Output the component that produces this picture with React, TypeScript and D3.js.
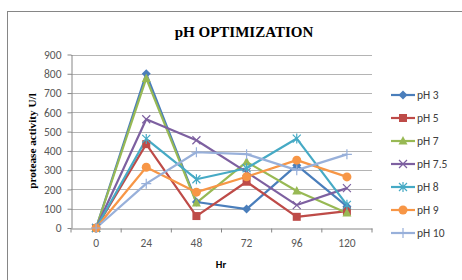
import React, { useEffect, useRef } from 'react';
import * as d3 from 'd3';

const hours = ['0', '24', '48', '72', '96', '120'];
const yTicks = [0, 100, 200, 300, 400, 500, 600, 700, 800, 900];

const seriesNames = ['pH 3', 'pH 5', 'pH 7', 'pH 7.5', 'pH 8', 'pH 9', 'pH 10'];
const ph3 = [0, 800, 135, 98, 326, 112];
const ph5 = [0, 435, 62, 240, 58, 88];
const ph7 = [0, 776, 130, 343, 192, 78];
const ph75 = [0, 564, 455, 290, 119, 207];
const ph8 = [0, 462, 253, 310, 464, 120];
const ph9 = [0, 315, 186, 266, 352, 265];
const ph10 = [0, 230, 393, 383, 300, 382];

const seriesValues = [ph3, ph5, ph7, ph75, ph8, ph9, ph10];
const colors = ['#4A7EBB', '#BE4B48', '#98B954', '#7D60A0', '#46AAC5', '#F79646', '#98B0DA'];
const markers = ['diamond', 'square', 'triangle', 'x', 'star', 'circle', 'plus'];

const W = 462;
const H = 280;
const PLOT = { left: 71, right: 372, top: 54.5, bottom: 228 };
const TICK_FONT = 'Carlito, "Liberation Sans", Arial, sans-serif';
const SERIF = '"Liberation Serif", "Times New Roman", serif';

type G = d3.Selection<SVGGElement, unknown, null, undefined>;

function drawMarker(g: G, kind: string, cx: number, cy: number, color: string) {
  if (kind === 'diamond') {
    g.append('path').attr('d', `M${cx},${cy - 4.5}L${cx + 4.5},${cy}L${cx},${cy + 4.5}L${cx - 4.5},${cy}Z`).attr('fill', color);
  } else if (kind === 'square') {
    g.append('rect').attr('x', cx - 4).attr('y', cy - 4).attr('width', 8).attr('height', 8).attr('fill', color);
  } else if (kind === 'triangle') {
    g.append('path').attr('d', `M${cx},${cy - 5}L${cx + 4.5},${cy + 3.5}L${cx - 4.5},${cy + 3.5}Z`).attr('fill', color);
  } else if (kind === 'circle') {
    g.append('circle').attr('cx', cx).attr('cy', cy).attr('r', 4.5).attr('fill', color);
  } else if (kind === 'x') {
    g.append('path').attr('d', `M${cx - 4},${cy - 4}L${cx + 4},${cy + 4}M${cx - 4},${cy + 4}L${cx + 4},${cy - 4}`)
      .attr('stroke', color).attr('stroke-width', 1.2);
  } else if (kind === 'star') {
    g.append('path')
      .attr('d', `M${cx - 4},${cy - 4}L${cx + 4},${cy + 4}M${cx - 4},${cy + 4}L${cx + 4},${cy - 4}M${cx},${cy - 5}L${cx},${cy + 5}`)
      .attr('stroke', color).attr('stroke-width', 1.2);
  } else if (kind === 'plus') {
    g.append('path').attr('d', `M${cx - 5},${cy}L${cx + 5},${cy}M${cx},${cy - 5}L${cx},${cy + 5}`)
      .attr('stroke', color).attr('stroke-width', 1.2);
  }
}

const App: React.FC = () => {
  const ref = useRef<SVGSVGElement>(null);

  useEffect(() => {
    if (!ref.current) return;
    const svg = d3.select(ref.current);
    svg.selectAll('*').remove();

    svg.append('rect').attr('width', W).attr('height', H).attr('fill', '#fff');
    // chart area frame
    svg.append('rect').attr('x', 7.5).attr('y', 11.5).attr('width', 470).attr('height', 290)
      .attr('fill', '#fff').attr('stroke', '#868686').attr('stroke-width', 1);

    const x = d3.scaleBand().domain(hours).range([PLOT.left, PLOT.right]);
    const y = d3.scaleLinear().domain([0, 900]).range([PLOT.bottom, PLOT.top]);
    const cx = (h: string) => (x(h) || 0) + x.bandwidth() / 2;

    const root = svg.append('g') as unknown as G;

    // gridlines
    root.selectAll('.grid').data(yTicks.filter(t => t > 0)).enter().append('line')
      .attr('x1', PLOT.left).attr('x2', PLOT.right)
      .attr('y1', d => Math.round(y(d)) + 0.5).attr('y2', d => Math.round(y(d)) + 0.5)
      .attr('stroke', '#b4b4b4').attr('stroke-width', 1);

    // y axis
    const yAxis = root.append('g').attr('transform', `translate(${PLOT.left + 0.5},0)`)
      .call(d3.axisLeft(y).tickValues(yTicks).tickSize(4).tickSizeOuter(0));
    yAxis.select('.domain').attr('stroke', '#868686');
    yAxis.selectAll('line').attr('stroke', '#868686');
    yAxis.selectAll('text').attr('font-family', TICK_FONT).attr('font-size', 11.5).attr('fill', '#595959').attr('dx', -3);

    // x axis
    const xAxis = root.append('g').attr('transform', `translate(0,${Math.round(PLOT.bottom) + 0.5})`)
      .call(d3.axisBottom(x).tickSize(0));
    xAxis.select('.domain').attr('stroke', '#868686');
    xAxis.selectAll('text').attr('font-family', TICK_FONT).attr('font-size', 11.5).attr('fill', '#595959').attr('dy', '1.35em');
    const bounds = hours.map(h => x(h) || 0).concat([PLOT.right]);
    xAxis.selectAll('.bnd').data(bounds).enter().append('line')
      .attr('x1', d => d).attr('x2', d => d).attr('y1', 0).attr('y2', 4).attr('stroke', '#868686');

    // series lines + markers
    seriesValues.forEach((vals, i) => {
      const pts: [number, number][] = vals.map((v, j) => [cx(hours[j]), y(v)]);
      root.append('path').attr('d', d3.line()(pts) || '').attr('fill', 'none')
        .attr('stroke', colors[i]).attr('stroke-width', 2.2).attr('stroke-linejoin', 'round');
    });
    seriesValues.forEach((vals, i) => {
      vals.forEach((v, j) => drawMarker(root, markers[i], cx(hours[j]), y(v), colors[i]));
    });

    // legend
    const lg = svg.append('g') as unknown as G;
    seriesNames.forEach((name, i) => {
      const ly = 95 + i * 23;
      lg.append('line').attr('x1', 391).attr('x2', 415).attr('y1', ly).attr('y2', ly)
        .attr('stroke', colors[i]).attr('stroke-width', 2.2);
      drawMarker(lg, markers[i], 403, ly, colors[i]);
      lg.append('text').attr('x', 417).attr('y', ly + 4).attr('font-family', TICK_FONT)
        .attr('font-size', 11.5).attr('fill', '#404040').text(name);
    });

    // titles
    svg.append('text').attr('x', 244).attr('y', 37).attr('text-anchor', 'middle')
      .attr('font-family', SERIF).attr('font-weight', 'bold').attr('font-size', 15).attr('fill', '#000')
      .text('pH OPTIMIZATION');
    svg.append('text').attr('x', 221).attr('y', 268).attr('text-anchor', 'middle')
      .attr('font-family', TICK_FONT).attr('font-weight', 'bold').attr('font-size', 10.5).attr('fill', '#000')
      .text('Hr');
    svg.append('text').attr('transform', `translate(36,141) rotate(-90)`)
      .attr('text-anchor', 'middle').attr('font-family', SERIF).attr('font-weight', 'bold')
      .attr('font-size', 11.2).attr('fill', '#000').text('protease activity U/l');
  }, []);

  return (
    <svg ref={ref} width={W} height={H}
      style={{ position: 'absolute', left: 0, top: 0, display: 'block' }} />
  );
};

export default App;
